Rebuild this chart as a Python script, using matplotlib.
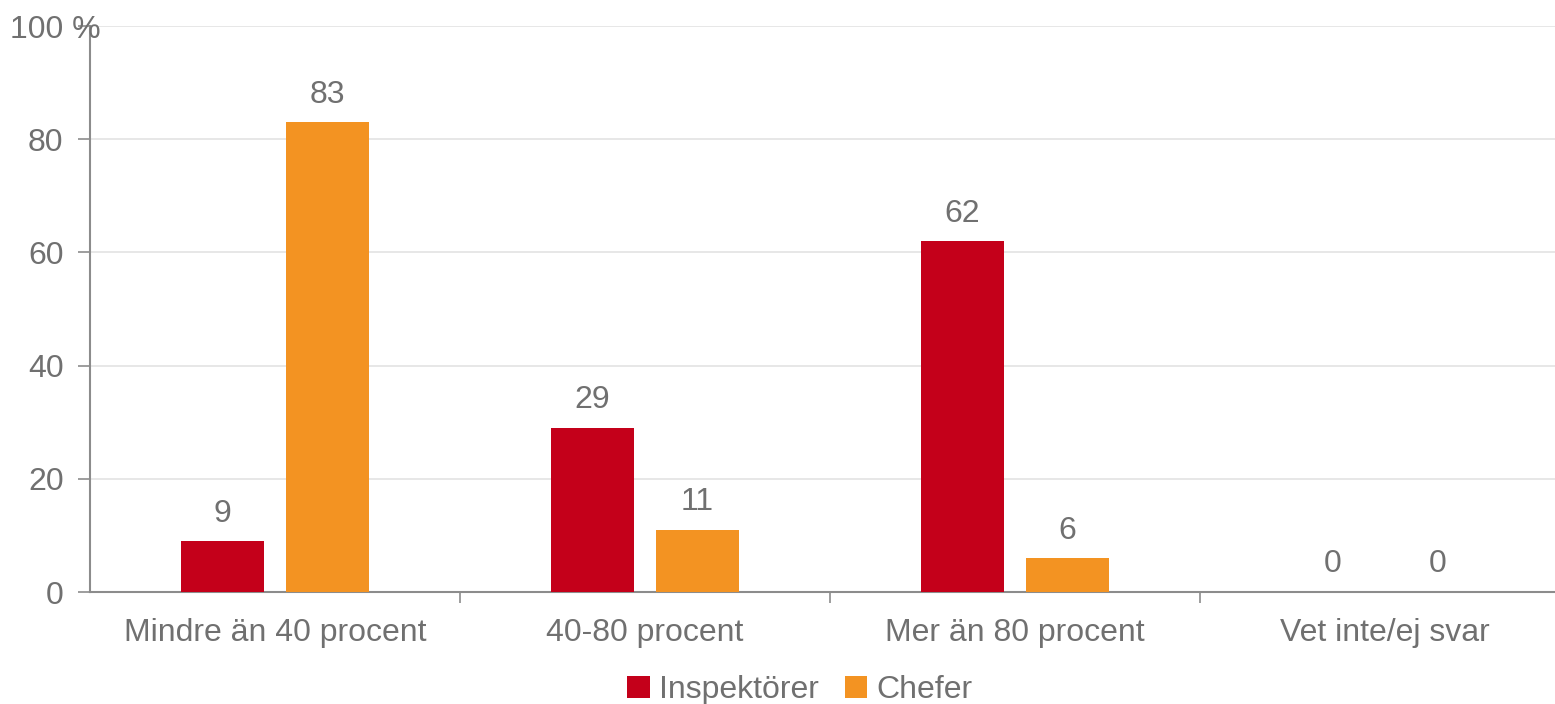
import numpy as np
import matplotlib
matplotlib.use("Agg")
import matplotlib.pyplot as plt

categories = ["Mindre än 40 procent", "40-80 procent", "Mer än 80 procent", "Vet inte/ej svar"]
inspektorer = [9, 29, 62, 0]
chefer = [83, 11, 6, 0]
yticks = [0, 20, 40, 60, 80, 100]
ytick_labels = ["0", "20", "40", "60", "80", ""]

RED = "#C4001A"
ORANGE = "#F39322"
TXT = "#707070"
AX = "#8C8C8C"
FS = 23

plt.rcParams["font.family"] = ["Liberation Sans", "DejaVu Sans"]

fig = plt.figure(figsize=(15.55, 7.04), dpi=100)
W, H = 1555, 704
ax = fig.add_axes([90 / W, 1 - 592 / H, 1480 / W, 566 / H])

x = np.arange(len(categories))
bw = 83 / 370
off = 52.5 / 370
b1 = ax.bar(x - off, inspektorer, bw, color=RED, label="Inspektörer", zorder=3)
b2 = ax.bar(x + off, chefer, bw, color=ORANGE, label="Chefer", zorder=3)

for bars in (b1, b2):
    for rect in bars:
        v = rect.get_height()
        ax.annotate(f"{v:g}", (rect.get_x() + rect.get_width() / 2, v),
                    xytext=(0, 9), textcoords="offset points",
                    ha="center", va="bottom", fontsize=FS, color=TXT)

ax.set_xlim(-0.5, 3.5)
ax.set_ylim(0, 100)
ax.set_yticks(yticks)
ax.set_yticklabels(ytick_labels)
# top label straddles the axis like in the source chart
ax.annotate("100 %", xy=(0, 100), xycoords=("axes fraction", "data"),
            xytext=(-80, -4), textcoords="offset pixels",
            ha="left", va="center", fontsize=FS, color=TXT)
ax.set_xticks(x)
ax.set_xticklabels(categories)
ax.set_xticks(np.arange(0.5, 3.5, 1.0), minor=True)
ax.tick_params(axis="x", which="major", length=0, pad=19, labelsize=FS, labelcolor=TXT)
ax.tick_params(axis="x", which="minor", length=8, color=AX, width=1.2)
ax.tick_params(axis="y", length=9, color=AX, width=1.2, pad=10, labelsize=FS, labelcolor=TXT)

ax.grid(axis="y", color="#E3E3E3", lw=1.2, zorder=0)
for s in ("top", "right"):
    ax.spines[s].set_visible(False)
for s in ("left", "bottom"):
    ax.spines[s].set_color(AX)
    ax.spines[s].set_linewidth(1.5)

fig.legend(loc="center", bbox_to_anchor=(800 / W, 1 - 690 / H), ncol=2, frameon=False,
           fontsize=FS, labelcolor=TXT, handlelength=0.7, handleheight=0.7,
           handletextpad=0.3, columnspacing=0.8)

fig.savefig("out.png", dpi=100)
